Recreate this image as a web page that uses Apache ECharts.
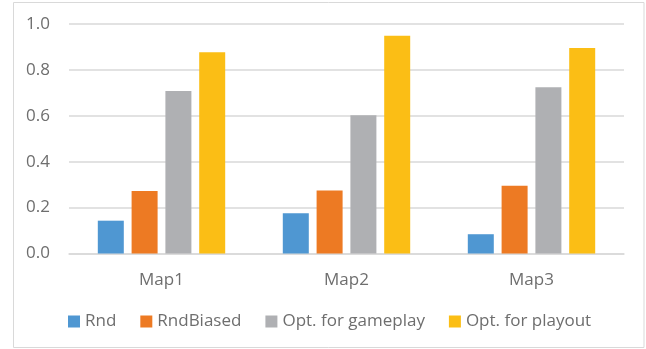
<!DOCTYPE html>
<html>
<head>
<meta charset="utf-8">
<script src="https://cdn.jsdelivr.net/npm/echarts@6/dist/echarts.min.js"></script>
<style>
html,body{margin:0;padding:0;background:#fff;}
#chart{width:646px;height:349px;}
</style>
</head>
<body>
<div id="chart"></div>
<script>
var categories = ['Map1', 'Map2', 'Map3'];
var seriesNames = ['Rnd', 'RndBiased', 'Opt. for gameplay', 'Opt. for playout'];
var rnd = [0.143, 0.175, 0.084];
var rndBiased = [0.272, 0.275, 0.295];
var optGameplay = [0.708, 0.602, 0.724];
var optPlayout = [0.877, 0.949, 0.895];
var yTicks = [0, 0.2, 0.4, 0.6, 0.8, 1.0];

var colors = ['#4F97D2', '#ED7A23', '#AFB0B3', '#FBBE15'];
var values = [rnd, rndBiased, optGameplay, optPlayout];
var font = '"Open Sans", sans-serif';

var chart = echarts.init(document.getElementById('chart'), null, {renderer: 'canvas'});
chart.setOption({
  animation: false,
  color: colors,
  graphic: [{
    type: 'rect',
    shape: {x: 13.5, y: 2.5, width: 630.5, height: 345},
    style: {fill: 'none', stroke: '#D9D9D9', lineWidth: 1},
    silent: true
  }],
  grid: {left: 69, right: 22, top: 24, bottom: 95.5, containLabel: false},
  legend: {
    data: seriesNames,
    left: 63,
    top: 308,
    icon: 'rect',
    itemWidth: 12,
    itemHeight: 12,
    itemGap: 24,
    textStyle: {color: '#6E6E6E', fontSize: 17, fontFamily: font}
  },
  xAxis: {
    type: 'category',
    data: categories,
    axisLine: {show: true, lineStyle: {color: '#D9D9D9', width: 1.5}},
    axisTick: {show: false},
    axisLabel: {color: '#6E6E6E', fontSize: 17, fontFamily: font, margin: 18}
  },
  yAxis: {
    type: 'value',
    min: yTicks[0],
    max: yTicks[yTicks.length - 1],
    interval: 0.2,
    axisLine: {show: false},
    axisTick: {show: false},
    splitLine: {lineStyle: {color: '#D9D9D9', width: 1.5}},
    axisLabel: {
      color: '#6E6E6E', fontSize: 17, fontFamily: font, margin: 19,
      formatter: function (v) { return v.toFixed(1); }
    }
  },
  series: seriesNames.map(function (name, i) {
    return {
      name: name,
      type: 'bar',
      data: values[i],
      barWidth: 26,
      barGap: '30%',
      itemStyle: {color: colors[i]}
    };
  })
});
</script>
</body>
</html>
